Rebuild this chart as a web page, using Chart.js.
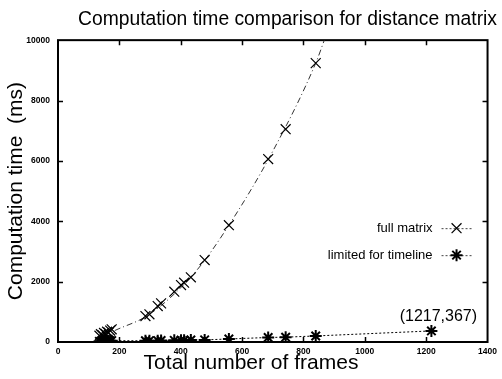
<!DOCTYPE html>
<html>
<head>
<meta charset="utf-8">
<script src="https://cdn.jsdelivr.net/npm/chart.js@4.4.1/dist/chart.umd.min.js"></script>
<style>
  html, body { margin: 0; padding: 0; background: #fff; }
</style>
</head>
<body>
<canvas id="chart" width="502" height="379"></canvas>
<script>
// frames / times
const fullFrames = [135, 140, 145, 150, 155, 160, 165, 170, 175, 285, 298, 325, 336, 379, 401, 411, 433, 478, 557, 685, 742, 840];
const fullTimes  = [210, 260, 230, 300, 270, 340, 310, 380, 420, 860, 917, 1192, 1280, 1666, 1887, 1964, 2142, 2715, 3870, 6060, 7050, 9240];

const limitedFrames = [135, 140, 145, 150, 155, 160, 165, 170, 175, 285, 298, 325, 336, 379, 401, 411, 433, 478, 557, 685, 742, 840, 1217];
const limitedTimes  = [20, 25, 30, 30, 35, 35, 40, 40, 45, 40, 45, 45, 50, 55, 60, 60, 65, 70, 100, 150, 160, 200, 367];

// dash-dot curve through the full matrix points, as drawn in the picture
const fitFrames = [185, 300, 450, 557, 700, 840, 868];
const fitTimes  = [380, 930, 2350, 3870, 6320, 9240, 10000];

const xTicks = [0, 200, 400, 600, 800, 1000, 1200, 1400];
const yTicks = [0, 2000, 4000, 6000, 8000, 10000];

const seriesNames = ['full matrix', 'limited for timeline'];
const noteLabel = '(1217,367)';
const xTitle = 'Total number of frames';

const pts = (xs, ys) => xs.map((x, i) => ({ x: x, y: ys[i] }));
const FONT = '"Liberation Sans", Arial, sans-serif';

// frame and inward tick marks on all four sides (gnuplot look)
const framePlugin = {
  id: 'frame',
  beforeDatasetsDraw(chart) {
    const { ctx, chartArea: a, scales } = chart;
    ctx.save();
    ctx.strokeStyle = '#000';
    ctx.lineWidth = 1.5;
    ctx.beginPath();
    scales.x.ticks.forEach(t => {
      if (t.value <= scales.x.min || t.value >= scales.x.max) return;
      const px = Math.round(scales.x.getPixelForValue(t.value)) + 0.5;
      ctx.moveTo(px, a.bottom); ctx.lineTo(px, a.bottom - 5);
      ctx.moveTo(px, a.top); ctx.lineTo(px, a.top + 5);
    });
    scales.y.ticks.forEach(t => {
      if (t.value <= scales.y.min || t.value >= scales.y.max) return;
      const py = Math.round(scales.y.getPixelForValue(t.value)) + 0.5;
      ctx.moveTo(a.left, py); ctx.lineTo(a.left + 5, py);
      ctx.moveTo(a.right, py); ctx.lineTo(a.right - 5, py);
    });
    ctx.stroke();
    ctx.lineWidth = 2;
    ctx.strokeRect(a.left, a.top, a.right - a.left, a.bottom - a.top);
    ctx.restore();
  },
  afterDraw(chart) {
    const { ctx, chartArea: a, scales } = chart;
    ctx.save();
    ctx.fillStyle = '#000';
    ctx.textBaseline = 'middle';

    // x axis title, centred on the page like the original
    ctx.font = '21px ' + FONT;
    ctx.textAlign = 'center';
    ctx.fillText(xTitle, chart.width / 2, 363);

    // legend inside the plot, right side
    ctx.font = '13px ' + FONT;
    ctx.textAlign = 'right';
    const textX = a.right - 55;
    const rows = [a.top + 188, a.top + 215];
    chart.data.datasets.slice(0, 2).forEach((ds, i) => {
      const y = rows[i];
      ctx.fillText(seriesNames[i], textX, y);
      ctx.save();
      ctx.strokeStyle = '#444';
      ctx.lineWidth = 1;
      ctx.setLineDash([2, 2]);
      ctx.beginPath();
      ctx.moveTo(textX + 9, y + 0.5);
      ctx.lineTo(textX + 39, y + 0.5);
      ctx.stroke();
      ctx.restore();
      ctx.strokeStyle = '#000';
      ctx.lineWidth = ds.pointBorderWidth;
      Chart.helpers.drawPoint(ctx, {
        pointStyle: ds.pointStyle, radius: ds.pointRadius, rotation: 0,
        borderWidth: ds.pointBorderWidth
      }, textX + 24, y);
    });

    // label of the last point
    const lx = scales.x.getPixelForValue(limitedFrames[limitedFrames.length - 1]);
    const ly = scales.y.getPixelForValue(limitedTimes[limitedTimes.length - 1]);
    ctx.font = '16px ' + FONT;
    ctx.textAlign = 'center';
    ctx.fillText(noteLabel, lx + 7, ly - 14);
    ctx.restore();
  }
};

const tickFont = { family: FONT, size: 8.5, weight: 'bold' };
const plain = v => String(v);

new Chart(document.getElementById('chart'), {
  type: 'scatter',
  data: {
    datasets: [
      {
        label: seriesNames[0],
        data: pts(fullFrames, fullTimes),
        pointStyle: 'crossRot',
        pointRadius: 7,
        pointBorderWidth: 1.2,
        borderColor: '#000',
        borderWidth: 1.2,
        showLine: false
      },
      {
        label: seriesNames[1],
        data: pts(limitedFrames, limitedTimes),
        pointStyle: 'star',
        pointRadius: 6,
        pointBorderWidth: 2,
        borderColor: '#000',
        pointBorderColor: '#000',
        borderWidth: 1,
        borderDash: [2, 2],
        showLine: true
      },
      {
        label: 'fit',
        data: pts(fitFrames, fitTimes),
        pointRadius: 0,
        borderColor: '#333',
        borderWidth: 1,
        borderDash: [6, 3, 1, 3],
        showLine: true,
        cubicInterpolationMode: 'monotone'
      }
    ]
  },
  options: {
    responsive: false,
    animation: false,
    layout: { padding: { left: 0, right: 5, top: 0, bottom: 0 } },
    plugins: {
      legend: { display: false },
      tooltip: { enabled: false },
      title: {
        display: true,
        text: 'Computation time comparison for distance matrix',
        align: 'end',
        color: '#000',
        font: { family: FONT, size: 19.3, weight: 'normal' },
        padding: { top: 8, bottom: 9 }
      }
    },
    scales: {
      x: {
        type: 'linear',
        min: 0, max: 1400,
        afterBuildTicks: s => { s.ticks = xTicks.map(v => ({ value: v })); },
        afterFit: s => { s.height = 37; },
        grid: { display: false, drawTicks: false },
        border: { display: false },
        ticks: { color: '#000', font: tickFont, padding: 5, maxRotation: 0, callback: plain }
      },
      y: {
        type: 'linear',
        min: 0, max: 10000,
        afterBuildTicks: s => { s.ticks = yTicks.map(v => ({ value: v })); },
        afterFit: s => { s.width = 58; },
        grid: { display: false, drawTicks: false },
        border: { display: false },
        ticks: { color: '#000', font: tickFont, padding: 8, callback: plain },
        title: {
          display: true, text: 'Computation time  (ms)', color: '#000',
          font: { family: FONT, size: 21, weight: 'normal' },
          padding: { top: 4, bottom: 4 }
        }
      },
      y2: {
        position: 'right',
        display: true,
        afterFit: s => { s.width = 5; },
        grid: { display: false, drawTicks: false },
        border: { display: false },
        ticks: { display: false }
      }
    }
  },
  plugins: [framePlugin]
});
</script>
</body>
</html>
